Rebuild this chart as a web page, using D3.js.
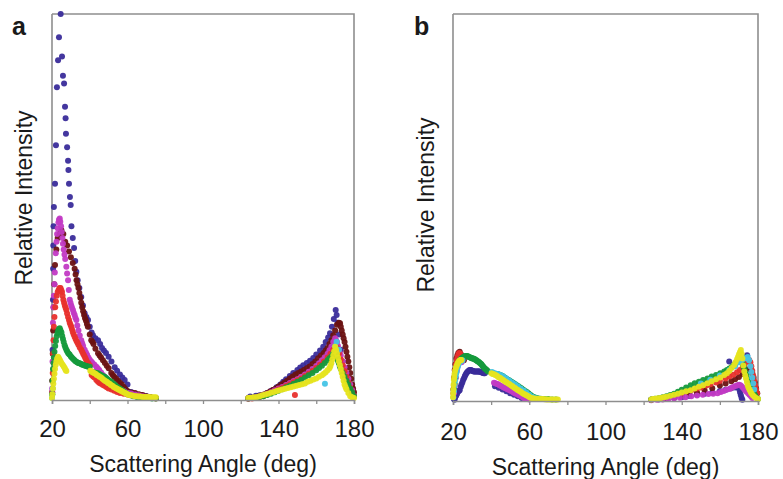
<!DOCTYPE html>
<html>
<head>
<meta charset="utf-8">
<script src="https://cdn.jsdelivr.net/npm/d3@7"></script>
<style>
  body { margin: 0; background: #fff; }
  svg text { font-family: "Liberation Sans", Arial, sans-serif; fill: #1a1a1a; }
</style>
</head>
<body>
<div id="chart"></div>
<script>
// angle (deg), relative intensity (% of panel a maximum)
const tickVals = [20, 40, 60, 80, 100, 120, 140, 160, 180]
const tickLabels = [20, 60, 100, 140, 180]

// ---- panel a ----
const aBlue = [[20.1,2],[20.3,13],[20.5,26],[20.6,34],[20.7,40],[20.8,45],[21,50],[21.6,56],[22.1,66],[22.6,81],[23.2,88],[23.7,94],[24.6,100],[25.3,89],[25.8,84],[26.4,82],[26.9,76],[27.2,73],[27.4,69],[28,65.5],[28.5,62],[28.7,59.6],[29,56],[29.5,52.6],[29.9,50.5],[30.3,45],[31,42],[31.7,39.4],[32.3,36],[32.9,33.2],[33.6,31],[34.5,29],[35.5,26.7],[36.4,24.5],[37.3,22.5],[38.2,21.5],[39.1,20.7],[40,19],[41,17.5],[41.7,16.8],[43,16],[44.4,15.5],[45.5,14.5],[46.5,13.5],[47.5,12.8],[48.6,12.2],[50,11.2],[51.5,10],[53.2,8.5],[54.5,7.6],[56,6.6],[57.3,5.8],[58.5,5.2],[60,4],[61.9,2.1],[64,1.6],[67,1.3],[70,1],[72,0.8],[74.6,0.5],
  [125,0.9],[128,1.1],[130,1.2],[132,1.3],[134,1.8],[136,2.3],[137.2,2.6],[139,3.3],[141,4],[142.5,4.7],[144,5.4],[146,6.2],[147.8,7],[150,7.8],[151.5,8.4],[153.1,9],[155,9.6],[156.7,10.2],[158.4,10.9],[160,11.8],[162,12.8],[163.7,13.8],[165,15],[166.3,16.2],[167.3,17.3],[168.3,19],[169.3,21],[170.3,23.3],[170.8,22],[171.3,20],[172,17],[173,13],[174,10],[175,8],[176,6],[177,4.5],[178,3],[179,2],[180,1]]
const aBrown = [[20.1,5],[20.4,12],[20.6,18],[20.9,24],[21.2,30],[21.6,35],[22.3,39],[23,42],[24,43],[25,44],[26,43],[27,41],[28,40],[29,38.5],[30,37],[31,35.5],[32,34],[32.5,32.5],[33,31],[33.5,30],[34,29],[34.5,27.7],[35,26.5],[35.5,25.2],[36,24],[36.5,23],[37,22],[37.5,21.2],[38,20.5],[38.5,19.7],[39,19],[40,17],[40.8,15.5],[41.5,15],[42,14.5],[43,13.3],[44.4,12.1],[45.2,11.5],[46,11],[47,10.3],[48,9.6],[49,8.9],[50,8.2],[51.4,7],[52.2,6.5],[53,6],[54,5.5],[55,5],[56,4.5],[57,4],[58,3.4],[59,2.8],[60,2.3],[61,2],[62.5,1.9],[64,1.8],[66,1.5],[68,1.3],[70,1],[72,0.8],[75,0.5],
  [124,0.5],[126,0.6],[128,0.8],[129.5,1],[131,1.2],[132.5,1.5],[134,1.8],[135.5,2.2],[137,2.6],[138.5,3],[140,3.5],[141.5,4],[143,4.5],[144.5,5],[146,5.6],[147.5,6.1],[149,6.6],[150.5,7],[152,7.4],[153.5,7.8],[155,8.2],[156.5,8.7],[158,9.3],[159.5,10],[161,10.8],[162.5,11.5],[164,12.2],[165,12.8],[166,13.5],[167,14.5],[168,15.5],[169,16.8],[170,18],[171,19.5],[172,20],[172.6,19.9],[173,19],[173.5,18],[174,17],[174.5,16],[175,15],[175.5,13.8],[176,12.5],[176.5,11.2],[177,10],[177.5,8.5],[178,7],[178.5,5.5],[179,4],[179.5,3],[180,2]]
const aMagenta = [[20.1,3],[20.3,10],[20.5,20],[20.7,24],[21,27],[21.3,30],[21.5,33],[22,38],[22.4,41],[22.7,43],[23,44.5],[23.4,46],[23.7,46.7],[24.1,47],[24.4,46.2],[24.8,45],[25.1,43.5],[25.5,42],[25.8,40.5],[26.2,39],[26.6,37.7],[27,36.5],[27.6,34.5],[28,32.8],[28.5,31],[28.9,28.5],[29.4,26],[29.8,25.2],[30.2,24.5],[30.6,23.9],[31.1,23.3],[31.5,22.6],[32,22],[32.4,21.3],[32.9,20.7],[33.4,19.3],[34,18],[34.7,16.7],[35.5,15.5],[36,14.7],[36.5,14],[37.3,13],[38,12.3],[38.6,11.7],[39.3,11],[40,10.4],[40.8,10],[41.5,9.6],[42.5,9.1],[43.5,8.6],[44.2,8.2],[45,7.8],[46,7.1],[47,6.5],[48,5.9],[49,5.3],[50.2,4.8],[51.4,4.3],[52.7,3.8],[54,3.4],[55.3,3],[56.7,2.6],[58,2.3],[59,2],[60.5,1.8],[62,1.7],[64,1.4],[66,1.2],[68,1],[70,0.8],[72,0.6],[74,0.5],
  [124,0.4],[126,0.5],[128,0.7],[130,0.9],[132,1.2],[134,1.6],[136,2],[138,2.5],[140,3],[142,3.4],[144,3.9],[146,4.4],[148,4.9],[150,5.4],[152,6],[154,6.6],[156,7.3],[158,8],[160,8.8],[161.5,9.5],[163,10.3],[164.5,11.1],[166,12],[167,12.9],[168,13.8],[169,15],[170,16],[170.5,15.5],[171,15],[171.5,14],[172,13],[172.5,12.2],[173,11.5],[174,10],[175,8.5],[176,7],[177,5.5],[178,4],[179,2.5],[180,1]]
const aRed = [[20.1,2],[20.4,7],[20.6,12],[20.8,15.5],[21,19],[21.3,21.5],[21.7,24],[22.1,25.5],[22.5,27],[23,28],[23.5,28.5],[24,29],[24.5,29],[24.9,28.5],[25.3,28],[25.6,27],[26,26],[26.4,25.2],[26.8,24.5],[27.2,23.9],[27.6,23.3],[28,22.4],[28.5,21.5],[29,20.7],[29.4,20],[29.8,19.5],[30.2,19],[30.6,18.3],[31,17.6],[31.5,17],[32,16.4],[32.5,15.8],[33,15.3],[33.5,14.8],[34,14.3],[34.7,13.6],[35.5,13],[36,12.5],[36.5,12],[37,11.5],[37.5,11],[38,10.5],[38.5,10],[39.2,9.5],[40,9],[41,6.5],[41.8,6.1],[42.5,5.8],[43.5,5.2],[44.4,4.7],[45.2,4.4],[46,4.2],[47,3.9],[48,3.6],[49,3.3],[50,3],[51.5,2.7],[53,2.4],[54.5,2.1],[56,1.8],[58,1.6],[60,1.4],[62,1.2],[64,1],[66,0.9],[68,0.8],[70,0.7],[72,0.6],[75,0.4],
  [124,0.3],[126,0.4],[128,0.6],[130,0.8],[132,1],[134,1.4],[136,1.8],[138,2.2],[140,2.7],[142,3.1],[144,3.6],[146,4.1],[148,4.6],[148.7,1.3],[150,5.1],[152,5.6],[154,6.2],[156,6.8],[158,7.5],[160,8.3],[162,9.1],[164,10],[166,11],[167.5,12],[169,13],[170,14],[171,13.5],[172,12],[173,10.5],[174,9],[175,7.5],[176,6],[177,4.5],[178,3.2],[179,2],[180,1]]
const aCyan = [[20,0.5],[20.2,1.5],[20.4,3],[164.6,4.2],[169,12],[170,14],[170.8,15.1],[172,13]]
const aGreen = [[20.1,1.5],[20.3,5],[20.5,8],[20.8,9.6],[21,11],[21.3,12.5],[21.7,14],[22.1,15.3],[22.5,16.5],[22.9,17.3],[23.3,18],[23.7,18.4],[24.1,18.6],[24.5,18.1],[25,17.5],[25.4,16.6],[25.8,15.8],[26.2,15],[26.7,14.2],[27.1,13.6],[27.6,13],[28,12.6],[28.5,12.2],[29,11.9],[29.4,11.7],[30,11.3],[30.5,11],[31.1,10.7],[31.7,10.4],[32.3,10.1],[32.9,9.9],[33.5,9.7],[34,9.6],[34.6,9.5],[35.2,9.4],[35.8,9.2],[36.4,9.1],[37,9],[37.6,8.9],[38.2,8.8],[38.8,8.7],[39.4,8.6],[40,8.6],[41,7.3],[41.7,7.2],[42.5,7.1],[43.5,7],[44.4,6.9],[45.2,6.7],[46,6.5],[47,6.2],[47.9,6],[48.7,5.7],[49.5,5.4],[50.5,5],[51.4,4.7],[52.5,4.3],[53.5,3.9],[54.7,3.4],[55.9,3],[57,2.6],[58,2.2],[59,1.8],[60,1.5],[61.5,1.2],[63,1],[65,0.8],[67,0.7],[69,0.6],[71,0.5],[73,0.4],[75,0.4],
  [124,0.4],[126,0.5],[128,0.6],[130,0.8],[132,1],[134,1.3],[136,1.6],[138,2],[140,2.4],[142,2.8],[144,3.3],[146,3.7],[148,4.2],[150,4.7],[152,5.2],[154,5.8],[156,6.4],[158,7],[160,7.7],[161.5,8.3],[163,8.9],[164.5,9.6],[166,10.3],[167,10.8],[168,11.3],[169,12],[170,12.3],[170.5,11.8],[171,11],[171.5,10.2],[172,9.5],[172.5,8.7],[173,8],[174,7],[175,6],[176,5],[177,4],[178,3],[179,2],[180,1]]
const aYellow = [[20,0.5],[20.2,1.5],[20.5,3],[20.7,4.2],[21,5.5],[21.3,6.8],[21.6,8],[22,9.1],[22.3,10],[22.7,10.7],[23.2,11.2],[23.6,10.9],[24,10.5],[24.4,10.1],[24.8,9.7],[25.3,9.3],[25.8,9],[26.3,8.6],[26.8,8.2],[27.2,7.8],[27.6,7.5],
  [40.3,7.6],[40.9,7.4],[41.5,7.2],[42.2,7],[43,6.8],[43.7,6.5],[44.5,6.3],[45.2,6],[46,5.8],[46.7,5.5],[47.5,5.2],[48.2,4.9],[49,4.7],[49.7,4.4],[50.5,4.2],[51.2,3.9],[52,3.7],[52.7,3.4],[53.5,3.2],[54.2,3],[55,2.8],[55.7,2.6],[56.5,2.4],[57.2,2.2],[58,2],[58.7,1.8],[59.5,1.6],[60.2,1.4],[61,1.3],[62,1.2],[63,1.1],[64,1],[65,1],[66,0.9],[67,0.9],[68,0.8],[69,0.8],[70,0.8],[71,0.8],[72,0.7],[73,0.7],[74,0.7],[75,0.7],
  [124,0.5],[125,0.6],[126,0.6],[127,0.7],[128.5,0.8],[130,1],[131.5,1.2],[133,1.4],[134.5,1.6],[136,1.9],[137.5,2.1],[139,2.3],[140.5,2.5],[142,2.7],[143.5,2.9],[145,3.1],[146.5,3.3],[148,3.5],[149.5,3.7],[151,3.9],[152.5,4.1],[154,4.3],[155.5,4.7],[157,5],[158.5,5.3],[160,5.6],[161.5,6],[163,6.4],[164,6.8],[165,7.2],[166,7.7],[167,8.2],[167.5,8.8],[168,9.5],[168.5,10.5],[169,11.5],[169.5,12.6],[170,13.8],[170.5,13],[171,12],[171.5,11],[172,10],[172.5,9],[173,8],[173.5,7],[174,6],[174.5,5],[175,4],[175.5,3.4],[176,2.8],[177,1.8],[178,1],[179,0.7],[180,0.5]]

// ---- panel b ----
const bBlue = [[20.5,0.5],[20.8,0.3],[21,0.8],[21.4,1.2],[21.7,1.5],[22.1,1.9],[22.5,2.3],[23,2.6],[23.5,2.8],[24,3.6],[24.4,4.2],[24.9,4.8],[25.3,5.4],[25.8,5.9],[26.2,6.4],[26.6,6.8],[27,7.2],[27.5,7.5],[28,7.7],[28.4,7.9],[28.8,8],[29.3,8],[29.8,7.9],[30.2,7.8],[30.6,7.7],[31,7.6],[31.4,7.6],[31.9,7.6],[32.4,7.6],[32.8,7.6],[33.2,7.6],[33.6,7.6],[34,7.6],[34.5,7.5],[35,7.4],[35.4,7.3],[35.8,7.3],[36.2,7.2],[36.7,7.2],
  [42,3.8],[44,3.4],[46,3],[48,2.5],[50,2],[52,1.6],[54,1.2],[56,0.8],[58,0.5],
  [124,0.3],[128,0.4],[132,0.5],[136,0.8],[140,1],[144,1.3],[148,1.6],[152,1.9],[156,2.2],[160,2.6],[163,2.9],[164.9,10.2],[166,3.3],[168,3.5],[169,3.6],[169.6,4],[170.2,3],[170.6,2.2],[171,1.5],[171.4,0.8],[171.8,0.3],[174.3,11.8]]
const bBrown = [[20.2,3],[20.5,6],[20.9,8],[21.3,9.5],[21.8,11],[22.3,11.8],[22.8,12.4],[23.5,12.7],[24.2,12],[25,11.2],[25.7,10.5],
  [124,0.3],[128,0.5],[132,0.7],[136,1],[140,1.4],[144,1.8],[148,2.2],[152,2.7],[156,3.3],[160,4],[163,4.5],[166,5.1],[168,5.6],[170,6.2],[172,7],[173.5,7.8],[175,8.2],[176.3,8.4],[177,7.2],[177.7,6],[178.3,4.8],[179,3.2],[179.6,2]]
const bRed = [[20.2,2],[20.5,4],[20.8,6],[21.2,8],[21.6,9.5],[22,10.5],[22.4,11.3],[22.8,12],[23.2,12.4],[23.7,12.3],[24.3,11.5],
  [124,0.3],[128,0.5],[132,0.9],[135,1.3],[137,1.6],[139.5,2],[142,2.4],[145,2.8],[148,3.2],[150,3.5],[153,4],[155,4.3],[158,4.8],[160,5.2],[163,5.8],[165,6.3],[167,6.8],[169,7.4],[170.5,8],[172,8.8],[173,9.5],[174.3,10.2],[175.4,10.6],[176,10],[176.5,9],[177,7.8],[177.5,6.5],[178,5.2],[178.5,4],[179,3],[179.5,2]]
const bMagenta = [[20.5,2],[21,4],[21.5,6],[22,7.8],[22.5,9],[23,10],[23.5,10.5],[24,10.6],[24.5,10],
  [41.5,4.7],[42.2,4.6],[43,4.4],[43.7,4.3],[44.4,4.1],[45.2,3.9],[46,3.7],[46.7,3.5],[47.5,3.3],[48.3,3.1],[49.1,2.9],[50,2.7],[50.8,2.5],[51.7,2.2],[52.5,2],[53.4,1.8],[54.2,1.6],[55,1.4],[55.8,1.2],[56.6,1],[57.3,0.8],[58,0.6],[59,0.5],[60,0.4],
  [124,0.2],[127,0.3],[130,0.4],[133,0.5],[136,0.7],[139,0.85],[142,1],[145,1.2],[148,1.4],[151,1.6],[154,1.8],[156.5,1.9],[158.8,2],[160.5,2.3],[162,2.6],[163.5,2.9],[165,3.1],[165.8,3.3],[167,3.6],[168.2,3.9],[169.3,4.1],[170.2,4.2],[171,4],[171.8,3.6],[172.5,3.2],[173.2,2.8],[174,2.4],[174.8,2],[175.5,1.6],[176.3,1.2],[177,0.8]]
const bCyan = [[20.2,1],[20.5,2.5],[20.8,4],[21.1,5.3],[21.5,6.5],[21.9,7.5],[22.3,8.5],[22.7,9.2],[23.2,9.8],[23.6,10.1],[24,10.3],[24.5,10.4],[25,10.5],
  [40.5,7.5],[42,7.2],[43.5,7],[45,6.7],[46.5,6.3],[48,5.8],[49.5,5.3],[51,4.8],[52.5,4.3],[54,3.8],[55.5,3.2],[57,2.7],[58.5,2.2],[60,1.6],[61.5,1.1],[63,0.8],
  [150,4.5],[155,5.5],[160,6.6],[165,8],[168,9],[170,10],[171,10.4],[172,10.8],[173.3,11.1],[174.6,11.4],[175.3,10.5],[176,9],[176.5,7.5],[177,6],[177.5,4.5],[178,3]]
const bGreen = [[20.5,3],[20.8,4.5],[21.2,6],[21.6,7.3],[22,8.5],[22.5,9.4],[23,10.2],[23.5,10.5],[24,10.8],[24.5,11],[25,11.2],[25.5,11.4],[26,11.5],[26.5,11.6],[27,11.6],[27.5,11.6],[27.9,11.5],[28.4,11.4],[28.8,11.3],[29.3,11.2],[29.7,11.1],[30.1,11],[30.5,11],[31,10.9],[31.4,10.8],[31.9,10.6],[32.3,10.5],[32.8,10.3],[33.2,10.2],[33.7,10],[34.1,9.8],[34.6,9.6],[35,9.4],[35.4,9.1],[35.8,8.9],[36.3,8.6],[36.7,8.4],[37.2,8.2],[37.6,8],[38,7.8],[38.4,7.6],
  [40.5,7.3],[41.2,7.2],[42,7],[42.8,6.95],[43.7,6.9],[44.5,6.8],[45.3,6.6],[46.2,6.4],[47,6.1],[47.9,5.8],[48.8,5.5],[49.7,5.3],[50.6,5],[51.5,4.7],[52.5,4.4],[53.4,4.1],[54.3,3.8],[55.2,3.5],[56,3.2],[56.9,2.9],[57.8,2.6],[58.7,2.3],[59.5,2],[60.3,1.7],[61,1.4],[62,1.1],[63,0.9],[64.5,0.7],[66,0.6],[68,0.5],[70,0.5],[72,0.4],[74,0.4],
  [124,0.4],[126,0.55],[128,0.7],[130,0.95],[132,1.2],[134,1.55],[136,1.9],[138,2.4],[140,2.9],[142.3,3.5],[144.7,4.1],[146.8,4.6],[149,5],[151.2,5.4],[153.5,5.8],[155.7,6.3],[158,6.7],[160.2,7.2],[162.3,7.6],[163.7,8],[165,8.4],[166.2,8.8],[167.4,9.3],[168.2,9.6],[169,10],[170,10.3],[171,10.6],[171.5,10],[172,9.5],[172.5,8.8],[173,8],[173.5,7.2],[174,6.5],[174.5,5.7],[175,5],[175.5,4.4],[176,3.8],[176.5,3.3],[177,2.8],[177.5,2.3],[178,1.8],[178.5,1.4],[179,1],[180,0.5]]
const bYellow = [[20,1],[20.1,2],[20.2,3],[20.3,4.2],[20.45,5.4],[20.6,6.2],[20.8,7],[21.1,7.8],[21.5,8.5],[21.8,9],[22.2,9.5],[22.6,9.9],[23,10.2],[23.4,10.4],[23.7,10.5],[24.1,10.6],[24.4,10.6],
  [40.2,7.2],[40.8,7],[41.5,6.9],[42.2,6.7],[43,6.5],[43.7,6.2],[44.5,6],[45.2,5.8],[46,5.5],[46.7,5.3],[47.5,5],[48.2,4.8],[49,4.5],[49.7,4.3],[50.5,4],[51.2,3.8],[52,3.5],[52.7,3.3],[53.5,3],[54.2,2.8],[55,2.5],[55.7,2.3],[56.5,2],[57.2,1.8],[58,1.6],[58.7,1.4],[59.5,1.2],[60.2,1],[61,0.8],[62,0.7],[63,0.6],[64,0.55],[65,0.5],[66,0.5],[67,0.5],[68,0.45],[69,0.4],[70,0.4],[71,0.4],[72,0.4],[73,0.4],[74,0.4],[75,0.4],
  [124,0.4],[125,0.5],[126,0.6],[127.5,0.7],[129,0.8],[130.5,0.95],[132,1.1],[134,1.35],[136,1.6],[138,1.9],[140,2.2],[142.3,2.5],[144.7,2.8],[146.8,3.2],[149,3.7],[151.2,4.1],[153.5,4.6],[155.7,5.1],[158,5.6],[160.2,6.1],[162.3,6.7],[163.7,7.2],[165,7.8],[166.2,8.5],[167.5,9.3],[168.2,10],[169,10.8],[169.5,11.4],[170,12],[170.5,12.6],[171,13.2],[171.4,12.2],[171.8,11],[172.3,9.2],[172.8,7.6],[173.3,6.6],[173.7,5.8],[174.2,4.9],[174.6,4.1],[175,3.5],[175.5,3],[176,2.5],[176.5,2],[177.3,1.5],[178.1,1.1],[179,0.8],[180,0.5]]

const colors = {
  blue: '#3a2c9a', brown: '#6a1212', magenta: '#c23ac4', red: '#e8302c',
  cyan: '#45c4e6', green: '#159a3c', yellow: '#e6e41e'
}

// draw order (later on top)
const panelA = [['blue', aBlue], ['brown', aBrown], ['magenta', aMagenta], ['red', aRed], ['cyan', aCyan], ['green', aGreen], ['yellow', aYellow]]
const panelB = [['blue', bBlue], ['brown', bBrown], ['red', bRed], ['magenta', bMagenta], ['green', bGreen], ['cyan', bCyan], ['yellow', bYellow]]

const w = 783, h = 479

const svg = d3.select('#chart')
  .append('svg')
  .attr('width', w)
  .attr('height', h)

svg.append('rect').attr('width', w).attr('height', h).attr('fill', '#fff')

const drawPanel = (series, box, letter) => {
  const x = d3.scaleLinear().domain([20, 180]).range([box.left, box.right])
  const y = d3.scaleLinear().domain([0, 100]).range([box.bottom, box.top])

  const g = svg.append('g')

  // box: top and right edges
  g.append('path')
    .attr('d', `M${box.left},${box.top}H${box.right}V${box.bottom}`)
    .attr('fill', 'none')
    .attr('stroke', '#8e8e8e')
    .attr('stroke-width', 1.6)

  g.append('line')
    .attr('x1', box.left).attr('x2', box.left)
    .attr('y1', box.top).attr('y2', box.bottom)
    .attr('stroke', '#8e8e8e')
    .attr('stroke-width', 1.6)

  series.forEach(([name, pts]) => {
    g.append('g')
      .selectAll('circle')
      .data(pts)
      .enter()
      .append('circle')
      .attr('cx', d => x(d[0]))
      .attr('cy', d => y(d[1]))
      .attr('r', 3)
      .attr('fill', colors[name])
      .attr('fill-opacity', 0.95)
  })

  const axis = d3.axisBottom(x)
    .tickValues(tickVals)
    .tickSize(4)
    .tickPadding(box.tickPad)
    .tickFormat(d => tickLabels.includes(d) ? d : '')

  const ax = g.append('g')
    .attr('transform', `translate(0,${box.bottom})`)
    .call(axis)
  ax.select('.domain').attr('stroke', '#8e8e8e').attr('stroke-width', 1.6)
  ax.selectAll('.tick line').attr('stroke', '#8e8e8e').attr('stroke-width', 1.3)
  ax.selectAll('.tick text')
    .attr('fill', '#1a1a1a')
    .style('font-size', '24px')
    .style('font-family', '"Liberation Sans", Arial, sans-serif')

  g.append('text')
    .attr('x', (box.left + box.right) / 2)
    .attr('y', box.titleY)
    .attr('text-anchor', 'middle')
    .style('font-size', '23px')
    .text('Scattering Angle (deg)')

  g.append('text')
    .attr('transform', `translate(${box.ylabX},${box.ylabY}) rotate(-90)`)
    .attr('text-anchor', 'middle')
    .style('font-size', '23px')
    .text('Relative Intensity')

  g.append('text')
    .attr('x', box.letterX)
    .attr('y', 35)
    .style('font-size', '25px')
    .style('font-weight', 'bold')
    .text(letter)
}

drawPanel(panelA, { left: 52, right: 354, top: 14, bottom: 400, tickPad: 16, titleY: 472, ylabX: 32, ylabY: 198, letterX: 12 }, 'a')
drawPanel(panelB, { left: 453, right: 758, top: 14, bottom: 401, tickPad: 18, titleY: 475, ylabX: 434, ylabY: 205, letterX: 414 }, 'b')
</script>
</body>
</html>
